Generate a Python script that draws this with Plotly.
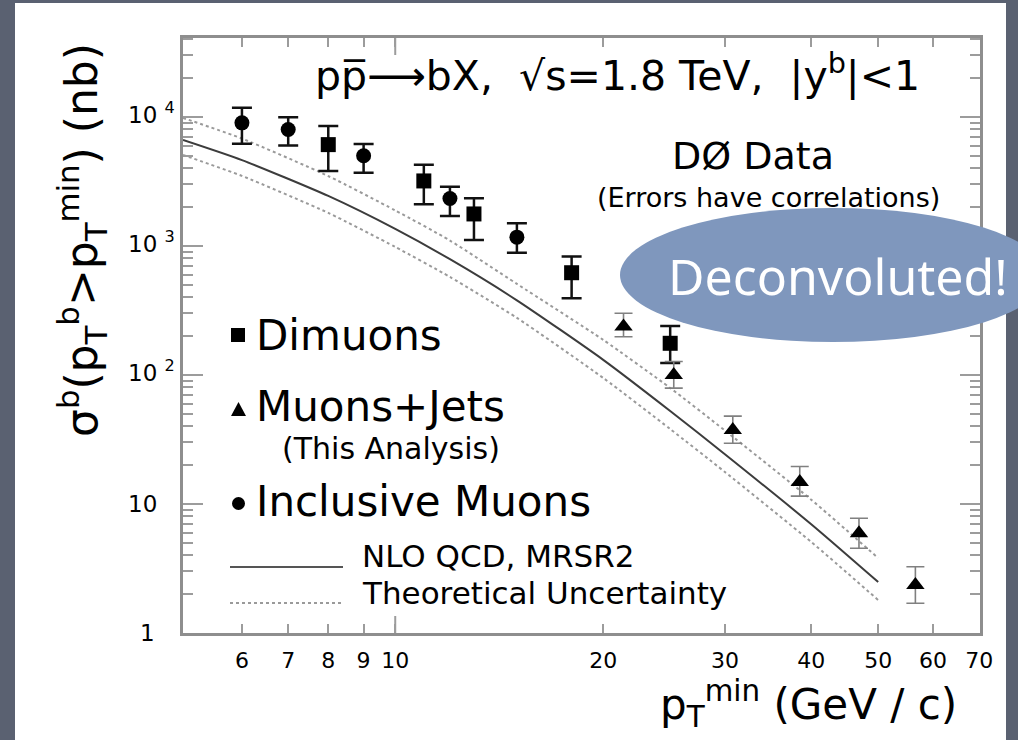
import math
import plotly.graph_objects as go

# ---- measured b-quark cross sections, sigma(pT^b > pT^min) in nb ----
# Inclusive muons
inc_pt = [6, 7, 9, 12, 15]
inc_sigma = [9000, 8000, 5000, 2330, 1170]
inc_hi = [11800, 9950, 6180, 2880, 1500]
inc_lo = [6200, 6000, 3700, 1710, 887]

# Dimuons
dimu_pt = [8, 11, 13, 18, 25]
dimu_sigma = [6100, 3190, 1770, 620, 176]
dimu_hi = [8510, 4250, 2340, 830, 240]
dimu_lo = [3815, 2105, 1113, 393, 124]

# Muons + jets (this analysis)
mj_pt = [21.4, 25.3, 30.8, 38.5, 46.9, 56.6]
mj_sigma = [237, 100, 37.5, 14.8, 5.93, 2.36]
mj_hi = [301, 127, 48, 19.5, 7.75, 3.26]
mj_lo = [198, 79, 29.6, 11.5, 4.54, 1.70]

# NLO QCD (MRSR2) prediction and its uncertainty band
nlo_pt = [4.93, 6, 8, 10, 12, 15, 20, 25, 30, 40, 50]
nlo_central = [6630, 4630, 2440, 1355, 789, 379, 131, 52.6, 24.3, 6.96, 2.48]
nlo_upper = [9820, 6800, 3480, 1885, 1101, 508, 187, 79.3, 37.1, 10.8, 3.81]
nlo_lower = [5075, 3490, 1803, 982, 575, 277, 94.8, 38.1, 17.7, 5.08, 1.80]

# ---- axes ----
x_range = [4.93, 70.2]
y_range = [1, 40900]
x_tickvals = [6, 7, 8, 9, 10, 20, 30, 40, 50, 60, 70]
x_ticktext = ["6", "7", "8", "9", "10", "20", "30", "40", "50", "60", "70"]
y_tickvals = [1, 10, 100, 1000, 10000]
y_ticktext = ["1", "10", "10 <sup>2</sup>", "10 <sup>3</sup>", "10 <sup>4</sup>"]
y_minor = [k * 10 ** d for d in range(5) for k in range(2, 10) if k * 10 ** d < y_range[1]]

FONT = "DejaVu Sans, Liberation Sans, sans-serif"
W, H = 1018, 740
L, R, T, B = 183, 980, 38, 633          # plot-area edges in page pixels
AXIS_GREY = "#8e8e8e"
TICK_GREY = "#9c9c9c"


def fx(p):
    return (p - L) / (R - L)


def fy(p):
    return (B - p) / (B - T)


def bars(vals, hi, lo, color, thick, width):
    return dict(type="data", symmetric=False,
                array=[h - v for h, v in zip(hi, vals)],
                arrayminus=[v - l for v, l in zip(vals, lo)],
                color=color, thickness=thick, width=width)


fig = go.Figure()

# theory curves
fig.add_trace(go.Scatter(x=nlo_pt, y=nlo_upper, mode="lines", line_shape="spline",
                         line=dict(color="#9a9a9a", width=2, dash="dot", smoothing=0.6)))
fig.add_trace(go.Scatter(x=nlo_pt, y=nlo_lower, mode="lines", line_shape="spline",
                         line=dict(color="#9a9a9a", width=2, dash="dot", smoothing=0.6)))
fig.add_trace(go.Scatter(x=nlo_pt, y=nlo_central, mode="lines", line_shape="spline",
                         line=dict(color="#3c3c3c", width=2, smoothing=0.6)))

# data
fig.add_trace(go.Scatter(x=inc_pt, y=inc_sigma, mode="markers",
                         marker=dict(symbol="circle", size=15, color="black"),
                         error_y=bars(inc_sigma, inc_hi, inc_lo, "#111111", 2.5, 10)))
fig.add_trace(go.Scatter(x=dimu_pt, y=dimu_sigma, mode="markers",
                         marker=dict(symbol="square", size=15, color="black"),
                         error_y=bars(dimu_sigma, dimu_hi, dimu_lo, "#111111", 2.5, 10)))
fig.add_trace(go.Scatter(x=mj_pt, y=mj_sigma, mode="markers",
                         marker=dict(symbol="triangle-up", size=16, color="black"),
                         error_y=bars(mj_sigma, mj_hi, mj_lo, "#808080", 1.6, 9)))

shapes = [
    # white slide panel
    dict(type="rect", xref="paper", yref="paper", x0=fx(15), x1=fx(1006), y0=fy(742), y1=fy(3),
         fillcolor="white", line=dict(width=0), layer="below"),
    # longer decade ticks on the x axis (bottom and top)
    dict(type="line", xref="x", yref="paper", x0=10, x1=10, y0=0, y1=fy(B - 17),
         line=dict(color=TICK_GREY, width=2)),
    dict(type="line", xref="x", yref="paper", x0=10, x1=10, y0=1, y1=fy(T + 17),
         line=dict(color=TICK_GREY, width=2)),
    # legend symbols
    dict(type="rect", xref="paper", yref="paper", x0=fx(231), x1=fx(245), y0=fy(342), y1=fy(328),
         fillcolor="black", line=dict(width=0)),
    dict(type="path", xref="paper", yref="paper",
         path=f"M {fx(231)} {fy(416)} L {fx(246)} {fy(416)} L {fx(238.5)} {fy(402)} Z",
         fillcolor="black", line=dict(width=0)),
    dict(type="circle", xref="paper", yref="paper", x0=fx(232), x1=fx(245), y0=fy(510), y1=fy(497),
         fillcolor="black", line=dict(width=0)),
    dict(type="line", xref="paper", yref="paper", x0=fx(230), x1=fx(343), y0=fy(567), y1=fy(567),
         line=dict(color="#555555", width=2)),
    dict(type="line", xref="paper", yref="paper", x0=fx(230), x1=fx(343), y0=fy(603), y1=fy(603),
         line=dict(color="#9a9a9a", width=2, dash="dot")),
    # callout bubble
    dict(type="circle", xref="paper", yref="paper", x0=fx(620), x1=fx(1046), y0=fy(342), y1=fy(208),
         fillcolor="#7f97bd", line=dict(width=0), layer="above"),
]


def label(text, x, y, size, xanchor="center", yanchor="middle", color="black",
          family=FONT, angle=0, yshift=0):
    return dict(text=text, x=fx(x), y=fy(y), xref="paper", yref="paper", showarrow=False,
                font=dict(size=size, color=color, family=family),
                xanchor=xanchor, yanchor=yanchor, textangle=angle, yshift=yshift)


annotations = []
# y tick labels
for v, t in zip(y_tickvals, y_ticktext):
    ann = dict(text=t, x=fx(126) if v >= 10 else fx(157), xref="paper",
               y=math.log10(v), yref="y", showarrow=False,
               xanchor="left" if v >= 10 else "right", yanchor="middle",
               yshift=4 if v >= 100 else 0,
               font=dict(size=23, color="black", family=FONT))
    annotations.append(ann)

annotations += [
    label("pp\u0305\u27f6bX,  \u221as=1.8 TeV,  |y<sup>b</sup>|&lt;1", 617, 73, 41),
    label("D\u00d8 Data", 753, 156, 38),
    label("(Errors have correlations)", 768, 197, 27),
    label("Dimuons", 254, 335, 42, xanchor="left"),
    label("Muons+Jets", 254, 406, 42, xanchor="left"),
    label("(This Analysis)", 280, 448, 30, xanchor="left"),
    label("Inclusive Muons", 254, 501, 42, xanchor="left"),
    label("NLO QCD, MRSR2", 360, 556, 31, xanchor="left"),
    label("Theoretical Uncertainty", 360, 593, 31, xanchor="left"),
    label("p<sub>T</sub><sup>min</sup> (GeV / c)", 808, 704, 42),
    label("\u03c3<sup>b</sup>(p<sub>T</sub><sup>b</sup>&gt;p<sub>T</sub><sup>min</sup>) (nb)",
          82, 240, 44, angle=-90),
    label("Deconvoluted!", 838, 276, 50, color="white", family="Noto Sans, DejaVu Sans, sans-serif"),
]

axis_common = dict(type="log", showgrid=False, zeroline=False, showline=True,
                   linecolor=AXIS_GREY, linewidth=3, mirror="allticks",
                   ticks="inside", tickcolor=TICK_GREY, tickwidth=2)

fig.update_layout(
    width=W, height=H, autosize=False,
    margin=dict(l=L, r=W - R, t=T, b=H - B, pad=0),
    paper_bgcolor="#5a6171", plot_bgcolor="white",
    showlegend=False,
    xaxis=dict(**axis_common, range=[math.log10(x_range[0]), math.log10(x_range[1])],
               tickmode="array", tickvals=x_tickvals, ticktext=x_ticktext, ticklen=9,
               tickfont=dict(size=22, color="black", family=FONT), ticklabelstandoff=6),
    yaxis=dict(**axis_common, range=[math.log10(y_range[0]), math.log10(y_range[1])],
               tickmode="array", tickvals=y_tickvals, ticklen=20, showticklabels=False,
               minor=dict(tickmode="array", tickvals=y_minor, ticks="inside", ticklen=10,
                          tickcolor=TICK_GREY, tickwidth=2)),
    shapes=shapes,
    annotations=annotations,
)

fig.write_html("out.html")
